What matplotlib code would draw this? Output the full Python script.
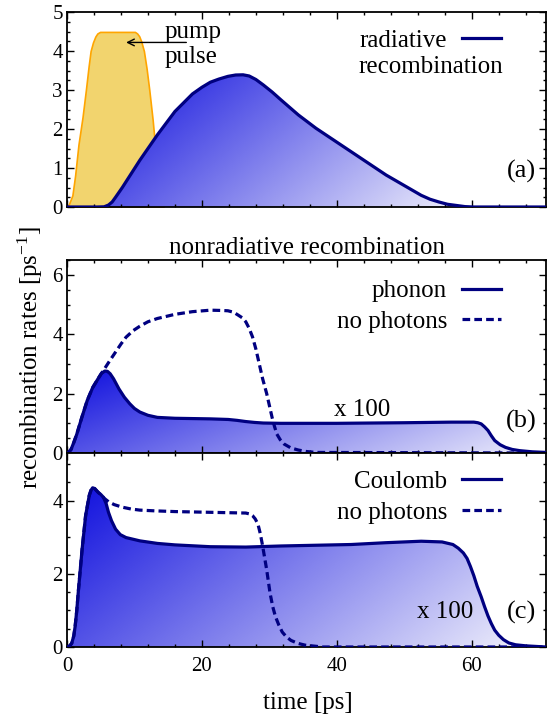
# Packages
import matplotlib
matplotlib.use('Agg')
import matplotlib.pyplot as plt
import numpy as np
from matplotlib.colors import LinearSegmentedColormap
from matplotlib.ticker import MultipleLocator

plt.rcParams['font.family'] = ['Liberation Serif', 'DejaVu Serif']
plt.rcParams['mathtext.fontset'] = 'custom'
plt.rcParams['mathtext.rm'] = 'Liberation Serif'
plt.rcParams['mathtext.it'] = 'Liberation Serif:italic'

# Data, time in ps
pump_t = [0, 0.3, 0.8, 1.2, 1.7, 2.3, 2.8, 3.2, 3.5, 3.85, 4.2, 4.5, 4.9, 10.07, 10.4, 10.7, 11.0, 11.4,
          11.8, 12.2, 12.7, 13.2, 13.6, 14.0, 14.3]
pump_y = [0, 0.08, 0.3, 0.8, 1.6, 2.3, 3.0, 3.6, 4.0, 4.22, 4.37, 4.45, 4.49, 4.49, 4.45, 4.38, 4.25, 4.0,
          3.55, 3.0, 2.23, 1.3, 0.6, 0.15, 0]

rad_t = [0, 4.5, 5.5, 6.15, 6.7, 7.2, 8.2, 10.8, 13.4, 16.0, 18.6, 20.0, 21.25, 22.5, 23.85, 25.0, 26.1,
         27.0, 28.0, 29.1, 30.4, 31.7, 34.3, 36.9, 39.5, 42.1, 44.7, 47.3, 49.9, 52.5, 53.8, 55.1,
         56.4, 57.7, 59.0, 60.3, 71]
rad_y = [0, 0, 0.005, 0.05, 0.13, 0.25, 0.5, 1.2, 1.85, 2.45, 2.9, 3.07, 3.2, 3.28, 3.35, 3.385, 3.39,
         3.36, 3.27, 3.13, 2.95, 2.75, 2.36, 2.02, 1.72, 1.42, 1.12, 0.82, 0.56, 0.3, 0.2, 0.13,
         0.07, 0.04, 0.01, 0, 0]

phon_t = [0, 0.15, 0.6, 1.0, 1.46, 2.2, 3.0, 3.8, 4.6, 5.1, 5.6, 6.0, 6.4, 6.9, 7.7, 8.5, 9.3, 10.0,
          10.8, 12.0, 13.4, 16, 21.25, 23.9, 25.2, 26.5, 27.8, 29.1, 31.7, 40, 50, 57, 60.3, 60.9,
          61.4, 61.9, 62.4, 62.9, 63.4, 64.2, 65, 66, 67.1, 69, 71]
phon_y = [0, 0, 0.12, 0.35, 0.64, 1.2, 1.77, 2.2, 2.5, 2.68, 2.76, 2.75, 2.67, 2.5, 2.16, 1.88, 1.66, 1.5,
          1.38, 1.27, 1.2, 1.17, 1.15, 1.13, 1.1, 1.06, 1.03, 1.01, 1.0, 1.0, 1.02, 1.04, 1.04, 1.02,
          0.98, 0.88, 0.76, 0.58, 0.42, 0.28, 0.19, 0.12, 0.08, 0.04, 0.02]

phon_np_t = [0, 0.15, 0.6, 1.0, 1.46, 2.2, 3.0, 3.8, 4.6, 5.1, 5.6, 6.4, 7.2, 8.0, 8.75, 9.8, 10.8, 12.0,
             13.4, 16, 18.6, 21.25, 23.0, 23.85, 24.7, 25.4, 26.0, 26.5, 27.0, 27.5, 28.0, 28.5, 29.0,
             29.6, 30.0, 30.4, 30.75, 31.1, 31.6, 32.2, 33.2, 34.3, 35.5, 36.9, 71]
phon_np_y = [0, 0, 0.12, 0.35, 0.64, 1.2, 1.77, 2.2, 2.5, 2.68, 2.85, 3.13, 3.4, 3.67, 3.9, 4.12, 4.27, 4.42,
             4.53, 4.67, 4.76, 4.81, 4.8, 4.79, 4.74, 4.64, 4.55, 4.42, 4.2, 3.91, 3.5, 3.0, 2.5,
             2.0, 1.6, 1.2, 0.9, 0.64, 0.45, 0.3, 0.17, 0.1, 0.05, 0.02, 0]

coul_t = [0, 0.4, 0.7, 1.0, 1.2, 1.45, 1.7, 2.24, 2.76, 3.3, 3.55, 3.8, 4.1, 4.6, 5.0, 5.4, 5.8, 6.15,
          6.6, 7.2, 7.9, 8.75, 10.8, 13.4, 16, 21.25, 26.5, 31.7, 36.9, 42.1, 47.3, 52.5, 55.6, 57.2,
          58.0, 58.75, 59.3, 59.8, 60.3, 60.8, 61.4, 61.9, 62.4, 62.9, 63.4, 64, 64.7, 65.5, 66.5, 68.1, 71]
coul_y = [0, 0.03, 0.1, 0.3, 0.55, 1.0, 1.56, 2.67, 3.59, 4.14, 4.28, 4.35, 4.33, 4.23, 4.17, 4.09, 3.92, 3.68,
          3.45, 3.22, 3.07, 2.99, 2.9, 2.83, 2.79, 2.74, 2.73, 2.76, 2.78, 2.8, 2.85, 2.89, 2.87, 2.8,
          2.7, 2.57, 2.42, 2.2, 1.95, 1.66, 1.37, 1.1, 0.85, 0.64, 0.46, 0.32, 0.2, 0.11, 0.06, 0.03, 0.0]

coul_np_t = [0, 0.4, 0.7, 1.0, 1.2, 1.45, 1.7, 2.24, 2.76, 3.3, 3.55, 3.8, 4.1, 4.6, 5.1, 5.6, 6.15, 7.0,
             8.2, 9.5, 10.8, 13.0, 16, 21.25, 26.5, 27.2, 27.5, 27.9, 28.3, 28.65, 29.0, 29.6, 30.1,
             30.5, 30.9, 31.4, 31.9, 32.5, 33.2, 34.2, 35.3, 37.9, 71]
coul_np_y = [0, 0.03, 0.1, 0.3, 0.55, 1.0, 1.56, 2.67, 3.59, 4.14, 4.28, 4.35, 4.33, 4.23, 4.14, 4.05, 3.97, 3.89,
             3.82, 3.77, 3.74, 3.72, 3.7, 3.68, 3.66, 3.63, 3.59, 3.5, 3.36, 3.1, 2.76, 2.11, 1.47,
             1.1, 0.83, 0.6, 0.41, 0.28, 0.18, 0.1, 0.05, 0, 0]

NAVY = '#000080'
DASH = (0, (2.4, 1.3))
FS = 18
fade = LinearSegmentedColormap.from_list('fade', [(0.06, 0.06, 0.87), (0.94, 0.94, 0.985)])


def shade(ax, t, y):
	'''
		blue gradient fill under a curve, dark at upper left, pale at lower right
	'''
	t = np.asarray(t, float)
	y = np.asarray(y, float)
	poly = ax.fill_between(t, 0, y, facecolor='none', edgecolor='none')
	lo, hi = t[y > 0].min(), t[y > 0].max()
	u, v = np.meshgrid(np.linspace(0, 1, 300), np.linspace(0, 1, 300))
	im = ax.imshow(0.7 * u + 0.3 * v, cmap=fade, vmin=0, vmax=1, origin='upper', aspect='auto',
	               extent=[lo, hi, 0, y.max()], interpolation='bilinear', zorder=1)
	im.set_clip_path(poly.get_paths()[0], transform=ax.transData)


def curve(ax, t, y, **kw):
	ax.plot(t, y, color=NAVY, lw=2.3, zorder=3, solid_joinstyle='round', dash_joinstyle='round', **kw)


def style(ax, ymax, ymaj, ymin, xlabels=False):
	ax.set_xlim(0, 71)
	ax.set_ylim(0, ymax)
	ax.xaxis.set_major_locator(MultipleLocator(20))
	ax.xaxis.set_minor_locator(MultipleLocator(4))
	ax.yaxis.set_major_locator(MultipleLocator(ymaj))
	ax.yaxis.set_minor_locator(MultipleLocator(ymin))
	ax.tick_params(which='both', direction='in', top=True, right=True, labelsize=15, width=1)
	ax.tick_params(which='major', length=5)
	ax.tick_params(which='minor', length=2.5)
	ax.tick_params(axis='y', pad=3)
	ax.tick_params(axis='x', pad=7, labelbottom=xlabels)
	for s in ax.spines.values():
		s.set_linewidth(1.3)


def key(ax, top):
	ax.legend(loc='upper right', bbox_to_anchor=(0.906, top), markerfirst=False, frameon=False,
	          fontsize=FS, handlelength=1.56, handletextpad=0.6, labelspacing=0.33,
	          borderpad=0, borderaxespad=0)


fig = plt.figure(figsize=(5.5, 7.2), dpi=100)
ax_a = fig.add_axes([0.1218, 0.7125, 0.8709, 0.2708])
ax_b = fig.add_axes([0.1218, 0.3708, 0.8709, 0.2681])
ax_c = fig.add_axes([0.1218, 0.1014, 0.8709, 0.2694])

# (a) radiative recombination + pump pulse
ax_a.fill_between(pump_t, 0, pump_y, facecolor='#f2d46e', edgecolor='#ffa500', lw=1.2, zorder=0.5)
shade(ax_a, rad_t, rad_y)
curve(ax_a, rad_t, rad_y, label='radiative')
style(ax_a, 5, 1, 0.25)
key(ax_a, 0.912)
ax_a.text(0.91, 0.686, 'recombination', ha='right', va='baseline', fontsize=FS, transform=ax_a.transAxes)
ax_a.text(0.204, 0.868, 'pump', ha='left', va='baseline', fontsize=FS, transform=ax_a.transAxes)
ax_a.text(0.204, 0.739, 'pulse', ha='left', va='baseline', fontsize=FS, transform=ax_a.transAxes)
ax_a.annotate('', xy=(8.35, 4.22), xytext=(18.1, 4.22),
              arrowprops=dict(arrowstyle='->', color='k', lw=1.0, mutation_scale=12), zorder=4)
ax_a.text(0.98, 0.149, '(a)', ha='right', va='baseline', fontsize=19, transform=ax_a.transAxes)

# (b) phonon assisted
shade(ax_b, phon_t, phon_y)
curve(ax_b, phon_t, phon_y, label='phonon')
curve(ax_b, phon_np_t, phon_np_y, ls=DASH, label='no photons')
style(ax_b, 6.5, 2, 0.5)
key(ax_b, 0.897)
ax_b.set_title('nonradiative recombination', fontsize=FS, pad=4)
ax_b.text(0.617, 0.194, 'x 100', ha='center', va='baseline', fontsize=FS, transform=ax_b.transAxes)
ax_b.text(0.98, 0.134, '(b)', ha='right', va='baseline', fontsize=19, transform=ax_b.transAxes)

# (c) Coulomb (Auger)
shade(ax_c, coul_t, coul_y)
curve(ax_c, coul_t, coul_y, label='Coulomb')
curve(ax_c, coul_np_t, coul_np_y, ls=DASH, label='no photons')
style(ax_c, 5.3, 2, 0.5, xlabels=True)
key(ax_c, 0.91)
ax_c.text(0.79, 0.147, 'x 100', ha='center', va='baseline', fontsize=FS, transform=ax_c.transAxes)
ax_c.text(0.98, 0.147, '(c)', ha='right', va='baseline', fontsize=19, transform=ax_c.transAxes)

fig.text(0.56, 0.024, 'time [ps]', ha='center', va='center', fontsize=FS)
fig.text(0.055, 0.503, 'recombination rates [ps$^{-1}$]', ha='center', va='center',
         rotation=90, fontsize=FS)

fig.savefig('out.png', dpi=100)
